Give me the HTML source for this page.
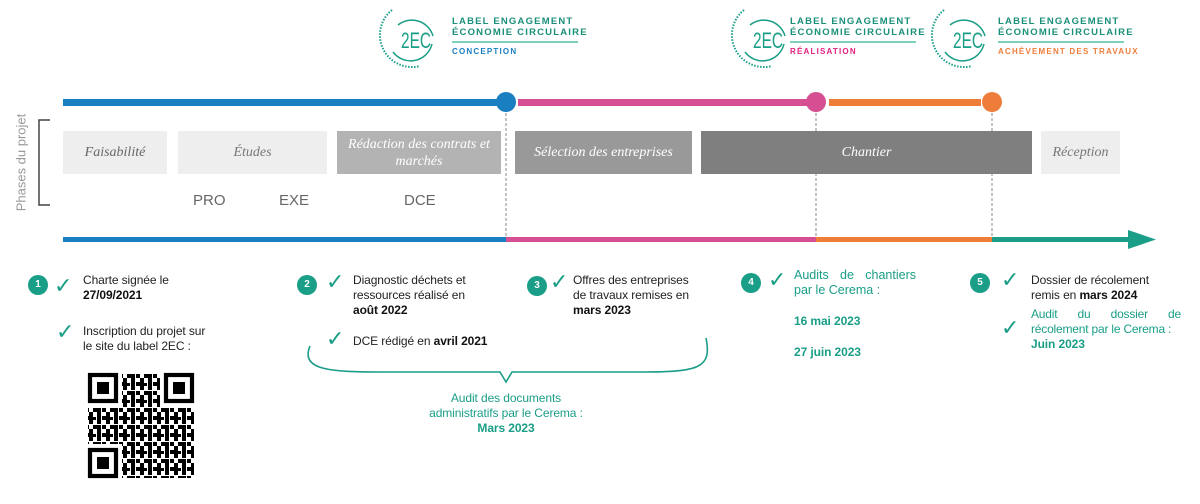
<!DOCTYPE html>
<html><head><meta charset="utf-8"><style>
body{margin:0;width:1200px;height:504px;background:#fff;position:relative;overflow:hidden;font-family:"Liberation Sans",sans-serif;}
.a{position:absolute}
.ph{position:absolute;top:131px;height:43px;display:flex;align-items:center;justify-content:center;text-align:center;font-family:"Liberation Serif",serif;font-style:italic;font-size:14px;line-height:17px}
.t{position:absolute;font-size:12px;line-height:15px;color:#222;letter-spacing:-0.1px}
.t b{color:#111}
.g{color:#1a9e87}
.g b{color:#1a9e87}
.n{position:absolute;width:20px;height:20px;border-radius:50%;background:#1a9e87;color:#fff;font-size:10px;font-weight:bold;text-align:center;line-height:20px}
.ck{position:absolute;color:#1a9e87;font-size:22px;line-height:22px;font-family:"DejaVu Sans",sans-serif}
.lab{position:absolute;font-size:9.5px;font-weight:bold;letter-spacing:1.2px;color:#1a8f7a;line-height:11px}
.sub{position:absolute;font-size:8px;font-weight:bold;letter-spacing:1.2px}
.sm{position:absolute;font-size:15px;color:#666}
</style></head><body>
<svg class="a" style="left:0;top:0" width="1200" height="504">
 <rect x="63" y="99" width="434" height="7" fill="#1a7fc1"/>
 <circle cx="506" cy="102" r="10" fill="#1a7fc1"/>
 <rect x="518" y="99" width="290" height="7" fill="#d64f93"/>
 <circle cx="816" cy="102" r="10" fill="#d64f93"/>
 <rect x="829" y="99" width="152" height="7" fill="#ef7d3a"/>
 <circle cx="992" cy="102" r="10" fill="#ef7d3a"/>
 <g stroke="#888" stroke-dasharray="3,2" stroke-width="1">
  <line x1="506" y1="113" x2="506" y2="240"/><line x1="816" y1="113" x2="816" y2="240"/><line x1="992" y1="113" x2="992" y2="240"/>
 </g>
 <path d="M50 120 H39 V205 H50" fill="none" stroke="#444" stroke-width="1.5"/>
 <rect x="63" y="237" width="443" height="5" fill="#1a7fc1"/>
 <rect x="506" y="237" width="310" height="5" fill="#d64f93"/>
 <rect x="816" y="237" width="176" height="5" fill="#ef7d3a"/>
 <rect x="992" y="237" width="138" height="5" fill="#1a9e87"/>
 <polygon points="1128,230 1156,239.5 1128,249" fill="#1a9e87"/>
 <path d="M310 346 C300 370 330 372 380 372 L500 372 L506 382 L512 372 L640 372 C700 372 712 368 706 338" fill="none" stroke="#1a9e87" stroke-width="1.6"/>
 <g fill="none" stroke="#1a9e87" stroke-width="1.5">
  <path d="M398 25 A22 22 0 0 1 433 36"/><path d="M432 44 A22 22 0 0 1 393 52"/>
  <path d="M750 25 A22 22 0 0 1 785 36"/><path d="M784 44 A22 22 0 0 1 745 52"/>
  <path d="M950 25 A22 22 0 0 1 985 36"/><path d="M984 44 A22 22 0 0 1 945 52"/>
 </g>
 <g font-family="Liberation Sans" fill="#1a9e87" font-size="22">
  <text x="401" y="48" textLength="30" lengthAdjust="spacingAndGlyphs">2EC</text>
  <text x="753" y="48" textLength="30" lengthAdjust="spacingAndGlyphs">2EC</text>
  <text x="953" y="48" textLength="30" lengthAdjust="spacingAndGlyphs">2EC</text>
 </g>
 <g fill="none" stroke="#1a9e87" stroke-width="2" stroke-dasharray="1.5,1.5">
  <path d="M392 10 A32 32 0 0 0 420 66"/><path d="M744 10 A32 32 0 0 0 772 66"/><path d="M944 10 A32 32 0 0 0 972 66"/>
 </g>
 <g stroke="#7fcfbf" stroke-width="2">
  <line x1="452" y1="42" x2="578" y2="42"/><line x1="790" y1="42" x2="916" y2="42"/><line x1="998" y1="42" x2="1124" y2="42"/>
 </g>
 <defs><pattern id="q" width="17" height="17" patternUnits="userSpaceOnUse">
  <rect x="0" y="0" width="4" height="4"/><rect x="8" y="0" width="8" height="4"/><rect x="4" y="4" width="4" height="4"/><rect x="12" y="4" width="4" height="8"/><rect x="0" y="8" width="8" height="4"/><rect x="4" y="12" width="4" height="4"/><rect x="12" y="12" width="4" height="4"/><rect x="8" y="9" width="3" height="3"/>
 </pattern></defs>
 <rect x="88" y="373" width="106" height="105" fill="url(#q)"/>
 <g fill="#fff"><rect x="88" y="373" width="34" height="34"/><rect x="160" y="373" width="34" height="34"/><rect x="88" y="444" width="34" height="34"/></g>
 <g fill="none" stroke="#000" stroke-width="4.2">
  <rect x="90" y="375" width="26" height="26"/><rect x="166" y="375" width="26" height="26"/><rect x="90" y="450" width="26" height="26"/>
 </g>
 <g fill="#000"><rect x="97" y="382" width="12" height="12"/><rect x="173" y="382" width="12" height="12"/><rect x="97" y="457" width="12" height="12"/></g>
</svg>

<div class="lab" style="left:452px;top:16px">LABEL ENGAGEMENT<br>ÉCONOMIE CIRCULAIRE</div>
<div class="sub" style="left:452px;top:47px;color:#1a7fc1">CONCEPTION</div>
<div class="lab" style="left:790px;top:16px">LABEL ENGAGEMENT<br>ÉCONOMIE CIRCULAIRE</div>
<div class="sub" style="left:790px;top:47px;color:#e0207f">RÉALISATION</div>
<div class="lab" style="left:998px;top:16px">LABEL ENGAGEMENT<br>ÉCONOMIE CIRCULAIRE</div>
<div class="sub" style="left:998px;top:47px;color:#ef7d3a">ACHÈVEMENT DES TRAVAUX</div>

<div class="a" style="left:-37px;top:155px;width:116px;transform:rotate(-90deg);font-size:13px;color:#999;text-align:center;white-space:nowrap">Phases du projet</div>

<div class="ph" style="left:63px;width:104px;background:#eee;color:#666">Faisabilité</div>
<div class="ph" style="left:178px;width:149px;background:#eee;color:#777">Études</div>
<div class="ph" style="left:337px;width:164px;background:#b3b3b3;color:#fff">Rédaction des contrats et marchés</div>
<div class="ph" style="left:515px;width:177px;background:#999;color:#fff">Sélection des entreprises</div>
<div class="ph" style="left:701px;width:331px;background:#7f7f7f;color:#fff">Chantier</div>
<div class="ph" style="left:1041px;width:79px;background:#eee;color:#777">Réception</div>
<div class="sm" style="left:193px;top:192px">PRO</div>
<div class="sm" style="left:279px;top:192px">EXE</div>
<div class="sm" style="left:404px;top:192px">DCE</div>

<div class="n" style="left:28px;top:275px">1</div><div class="ck" style="left:54px;top:276px">✓</div>
<div class="t" style="left:83px;top:273px">Charte signée le<br><b>27/09/2021</b></div>
<div class="ck" style="left:56px;top:322px">✓</div>
<div class="t" style="left:83px;top:324px">Inscription du projet sur<br>le site du label 2EC :</div>

<div class="n" style="left:297px;top:275px">2</div><div class="ck" style="left:326px;top:272px">✓</div>
<div class="t" style="left:353px;top:273px">Diagnostic déchets et<br>ressources réalisé en<br><b>août 2022</b></div>
<div class="ck" style="left:326px;top:329px">✓</div>
<div class="t" style="left:353px;top:334px">DCE rédigé en <b>avril 2021</b></div>

<div class="n" style="left:527px;top:276px">3</div><div class="ck" style="left:550px;top:272px">✓</div>
<div class="t" style="left:573px;top:273px">Offres des entreprises<br>de travaux remises en<br><b>mars 2023</b></div>

<div class="t g" style="left:420px;top:391px;width:172px;text-align:center">Audit des documents<br>administratifs par le Cerema :<br><b>Mars 2023</b></div>

<div class="n" style="left:741px;top:273px">4</div><div class="ck" style="left:768px;top:270px">✓</div>
<div class="t g" style="left:794px;top:268px;width:122px;font-size:12.5px;letter-spacing:0;text-align:justify;text-align-last:left">Audits de chantiers par le Cerema :</div>
<div class="t g" style="left:794px;top:314px"><b>16 mai 2023</b></div>
<div class="t g" style="left:794px;top:345px"><b>27 juin 2023</b></div>

<div class="n" style="left:970px;top:273px">5</div><div class="ck" style="left:1001px;top:270px">✓</div>
<div class="t" style="left:1031px;top:273px">Dossier de récolement<br>remis en <b>mars 2024</b></div>
<div class="ck" style="left:1001px;top:318px">✓</div>
<div class="t g" style="left:1031px;top:307px;width:150px;letter-spacing:-0.2px;text-align:justify;text-align-last:left">Audit du dossier de récolement par le Cerema :</div>
<div class="t g" style="left:1031px;top:337px"><b>Juin 2023</b></div>
</body></html>
